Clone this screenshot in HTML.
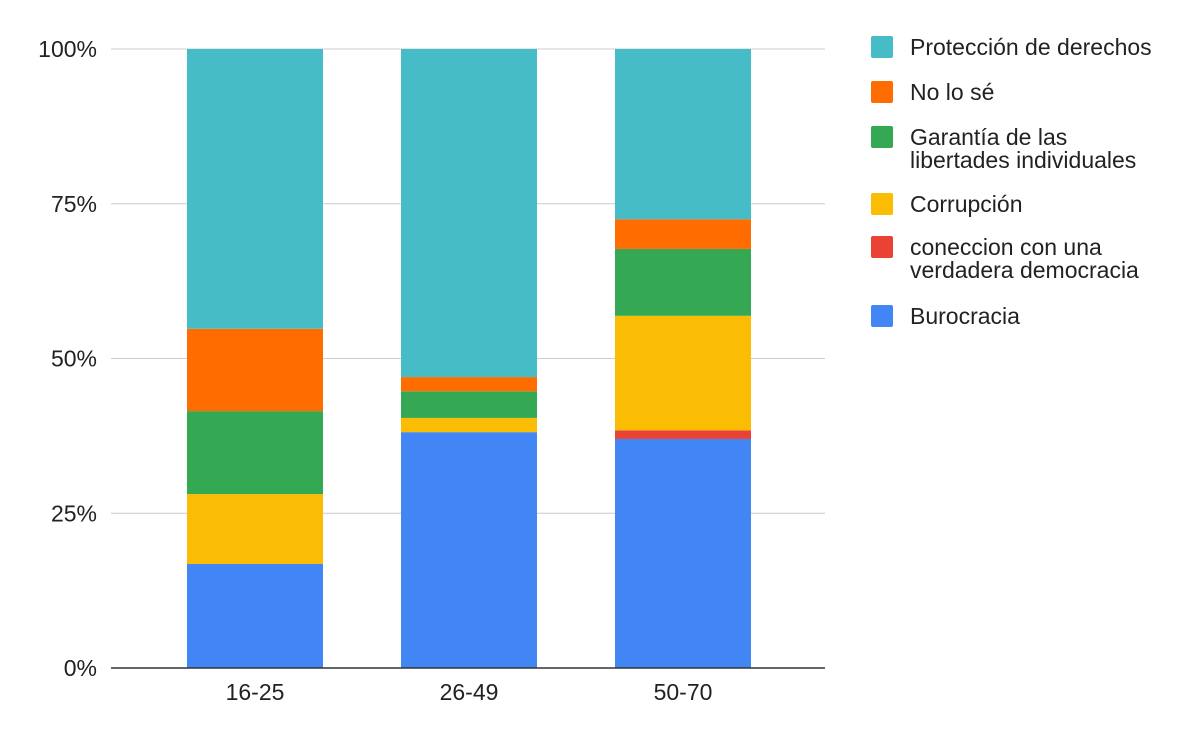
<!DOCTYPE html>
<html><head><meta charset="utf-8"><style>
body{margin:0;background:#fff;font-family:"Liberation Sans",Arial,sans-serif}
</style></head><body>
<svg id="chart" width="1200" height="742" xmlns="http://www.w3.org/2000/svg" font-family="Liberation Sans, Arial, sans-serif"></svg>
<script>
const categories=["16-25","26-49","50-70"];
const seriesNames=["Burocracia","coneccion con una verdadera democracia","Corrupción","Garantía de las libertades individuales","No lo sé","Protección de derechos"];
const burocracia=[16.8,38.1,37.0];
const coneccion=[0,0,1.4];
const corrupcion=[11.3,2.3,18.5];
const garantia=[13.4,4.3,10.8];
const noLoSe=[13.3,2.3,4.8];
const proteccion=[45.2,53.0,27.5];
const tickLabels=["0%","25%","50%","75%","100%"];
const tickValues=[0,25,50,75,100];
const series=[burocracia,coneccion,corrupcion,garantia,noLoSe,proteccion];
const colors=["#4285f4","#ea4335","#fbbc04","#34a853","#ff6d01","#46bdc6"];
const NS="http://www.w3.org/2000/svg";
const svg=document.getElementById("chart");
const x0=111,x1=825,y0=668,y1=49;
const yScale=v=>y0-(v/100)*(y0-y1);
const bw=136;
const xScale=i=>255+214*i;
function mk(t,a){const e=document.createElementNS(NS,t);for(const k in a)e.setAttribute(k,a[k]);svg.appendChild(e);return e;}
tickValues.forEach((v,i)=>{
 const l=mk("line",{x1:x0,x2:x1,y1:yScale(v),y2:yScale(v),stroke:i==0?"#333":"#ccc","stroke-width":1});
 
 
 const t=mk("text",{x:97,y:yScale(v)+8,"text-anchor":"end","font-size":23,fill:"#222"});
 t.textContent=tickLabels[i];
 
 
});
categories.forEach((c,i)=>{
 let acc=0;
 series.forEach((s,j)=>{
  const v=s[i];if(v<=0)return;
  const r=mk("rect",{x:xScale(i)-bw/2,y:yScale(acc+v),width:bw,height:yScale(acc)-yScale(acc+v),fill:colors[j]});
  
  
  acc+=v;
 });
 const t=mk("text",{x:xScale(i),y:700,"text-anchor":"middle","font-size":23,fill:"#222"});
 t.textContent=c;
 
 
});
mk("line",{x1:x0,x2:x1,y1:y0,y2:y0,stroke:"#333","stroke-width":1.5});
const legend=[[5,["Protección de derechos"],47],[4,["No lo sé"],92],[3,["Garantía de las","libertades individuales"],137],[2,["Corrupción"],204],[1,["coneccion con una","verdadera democracia"],247],[0,["Burocracia"],316]];
legend.forEach(([k,lines,y])=>{
 const r=mk("rect",{x:871,y:y-11,width:22,height:22,rx:2,fill:colors[k]});
 
 
 lines.forEach((ln,m)=>{
  const t=mk("text",{x:910,y:y+8+m*23,"font-size":23,fill:"#222"});
  t.textContent=ln;
  
  
 });
});
</script>
</body></html>
